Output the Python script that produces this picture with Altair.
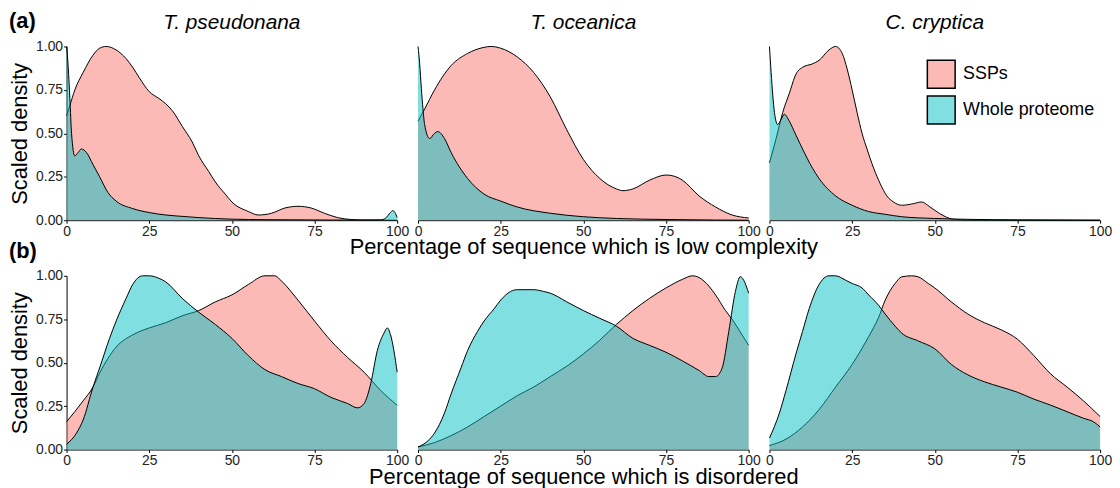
import altair as alt
import pandas as pd

FONT = "Liberation Sans"
species = ["T. pseudonana", "T. oceanica", "C. cryptica"]
groups = ["SSPs", "Whole proteome"]
row_labels = ["(a)", "(b)"]
x_titles = ["Percentage of sequence which is low complexity",
            "Percentage of sequence which is disordered"]
x_ticks = [0, 25, 50, 75, 100]
y_ticks = [0, 0.25, 0.5, 0.75, 1.0]

# ---- (a) low complexity ----
a1_ssp_x = [0, 1, 2.5, 5, 8, 10, 12, 15, 18, 20, 22, 25, 28, 30, 32, 35, 38, 40, 43, 45, 48, 50, 55, 58, 62, 66, 70, 74, 78, 82, 86, 90, 100]
a1_ssp_y = [0.60, 0.66, 0.75, 0.85, 0.95, 0.99, 1.0, 0.98, 0.93, 0.88, 0.82, 0.74, 0.70, 0.67, 0.63, 0.54, 0.45, 0.37, 0.28, 0.22, 0.15, 0.105, 0.05, 0.03, 0.04, 0.07, 0.08, 0.07, 0.04, 0.015, 0.004, 0.001, 0.0]
a1_wp_x = [0, 0.5, 1, 1.5, 2.5, 3.5, 4.5, 6, 8, 10, 12.5, 15, 20, 25, 30, 35, 40, 50, 60, 70, 80, 90, 95, 96.5, 98, 98.7, 99.3, 100]
a1_wp_y = [1.0, 0.88, 0.70, 0.50, 0.37, 0.39, 0.41, 0.39, 0.32, 0.25, 0.16, 0.11, 0.067, 0.044, 0.03, 0.022, 0.015, 0.006, 0.003, 0.002, 0.001, 0.001, 0.002, 0.012, 0.045, 0.055, 0.045, 0.015]

a2_ssp_x = [0, 2, 5, 10, 15, 20, 22, 25, 30, 35, 40, 45, 50, 55, 60, 62, 65, 70, 75, 78, 80, 85, 90, 95, 100]
a2_ssp_y = [0.57, 0.64, 0.75, 0.89, 0.96, 0.995, 1.0, 0.99, 0.94, 0.85, 0.71, 0.52, 0.35, 0.24, 0.18, 0.17, 0.18, 0.23, 0.26, 0.25, 0.23, 0.14, 0.076, 0.03, 0.013]
a2_wp_x = [0, 0.5, 1, 1.5, 2, 3.5, 5, 6, 8, 10, 15, 20, 25, 30, 40, 50, 60, 75, 90, 100]
a2_wp_y = [1.0, 0.90, 0.76, 0.64, 0.55, 0.47, 0.50, 0.51, 0.47, 0.39, 0.24, 0.15, 0.11, 0.076, 0.04, 0.02, 0.01, 0.004, 0.001, 0.0]

a3_ssp_x = [0, 2, 4, 6, 8, 10, 13, 15, 18, 20, 22, 23.5, 25, 26.5, 28, 29.5, 31.5, 33.5, 35.5, 37.5, 40, 43.5, 46, 48.5, 51.5, 55.5, 60, 75, 100]
a3_ssp_y = [0.33, 0.47, 0.62, 0.73, 0.84, 0.88, 0.90, 0.92, 0.98, 1.0, 0.96, 0.87, 0.75, 0.62, 0.50, 0.41, 0.30, 0.21, 0.14, 0.105, 0.086, 0.095, 0.105, 0.077, 0.038, 0.006, 0.001, 0.0, 0.0]
a3_wp_x = [0, 0.5, 1, 1.5, 2.5, 3.5, 4.5, 6, 8, 10, 13, 15, 20, 25, 30, 35, 40, 50, 60, 75, 90, 100]
a3_wp_y = [1.0, 0.85, 0.72, 0.62, 0.55, 0.58, 0.61, 0.57, 0.49, 0.41, 0.30, 0.24, 0.14, 0.086, 0.05, 0.034, 0.02, 0.01, 0.005, 0.002, 0.001, 0.0]

# ---- (b) disorder ----
b1_ssp_x = [0, 5, 8, 10, 15, 20, 25, 30, 35, 40, 45, 50, 55, 60, 63, 65, 70, 75, 80, 85, 90, 95, 100]
b1_ssp_y = [0.16, 0.28, 0.36, 0.44, 0.59, 0.66, 0.70, 0.73, 0.77, 0.80, 0.85, 0.89, 0.95, 1.0, 1.0, 0.97, 0.86, 0.74, 0.625, 0.53, 0.445, 0.34, 0.255]
b1_wp_x = [0, 3, 5, 8, 10, 13, 15, 18, 20, 23, 25, 28, 30, 35, 40, 45, 50, 55, 60, 65, 70, 75, 80, 85, 88, 90, 92, 94, 96, 97, 98, 99, 100]
b1_wp_y = [0.03, 0.095, 0.17, 0.36, 0.47, 0.64, 0.74, 0.87, 0.95, 1.0, 1.0, 0.985, 0.965, 0.87, 0.79, 0.72, 0.64, 0.54, 0.46, 0.42, 0.38, 0.35, 0.30, 0.265, 0.24, 0.265, 0.38, 0.57, 0.67, 0.70, 0.66, 0.57, 0.445]

b2_ssp_x = [0, 5, 10, 15, 20, 25, 30, 35, 40, 45, 50, 55, 60, 65, 70, 75, 80, 83, 85, 88, 90, 93, 95, 98, 100]
b2_ssp_y = [0.015, 0.04, 0.08, 0.13, 0.19, 0.25, 0.31, 0.36, 0.42, 0.48, 0.55, 0.63, 0.72, 0.80, 0.87, 0.93, 0.98, 1.0, 0.99, 0.94, 0.89, 0.80, 0.75, 0.66, 0.60]
b2_wp_x = [0, 3, 5, 8, 10, 13, 15, 18, 20, 23, 25, 28, 30, 33, 35, 38, 40, 45, 50, 55, 60, 65, 70, 75, 80, 85, 88, 90, 92, 94, 96, 97.5, 98.5, 100]
b2_wp_y = [0.015, 0.05, 0.095, 0.21, 0.32, 0.47, 0.57, 0.68, 0.74, 0.81, 0.86, 0.91, 0.92, 0.92, 0.92, 0.91, 0.90, 0.85, 0.80, 0.755, 0.71, 0.64, 0.60, 0.56, 0.51, 0.455, 0.42, 0.42, 0.47, 0.68, 0.91, 0.995, 0.975, 0.90]

b3_ssp_x = [0, 5, 10, 15, 20, 25, 30, 33, 35, 38, 40, 43, 45, 48, 50, 55, 60, 65, 70, 75, 80, 85, 90, 95, 100]
b3_ssp_y = [0.023, 0.06, 0.13, 0.23, 0.36, 0.49, 0.65, 0.76, 0.86, 0.956, 0.994, 1.0, 0.994, 0.956, 0.93, 0.85, 0.78, 0.73, 0.69, 0.635, 0.54, 0.436, 0.36, 0.28, 0.19]
b3_wp_x = [0, 3, 5, 8, 10, 12, 15, 18, 20, 23, 25, 28, 30, 33, 35, 38, 40, 45, 50, 55, 60, 65, 70, 75, 80, 85, 90, 95, 98, 100]
b3_wp_y = [0.066, 0.21, 0.34, 0.55, 0.68, 0.81, 0.95, 1.0, 1.0, 0.975, 0.956, 0.93, 0.89, 0.83, 0.78, 0.71, 0.67, 0.625, 0.58, 0.49, 0.43, 0.39, 0.36, 0.33, 0.29, 0.256, 0.218, 0.18, 0.16, 0.13]

curves = [
    [((a1_ssp_x, a1_ssp_y), (a1_wp_x, a1_wp_y)),
     ((a2_ssp_x, a2_ssp_y), (a2_wp_x, a2_wp_y)),
     ((a3_ssp_x, a3_ssp_y), (a3_wp_x, a3_wp_y))],
    [((b1_ssp_x, b1_ssp_y), (b1_wp_x, b1_wp_y)),
     ((b2_ssp_x, b2_ssp_y), (b2_wp_x, b2_wp_y)),
     ((b3_ssp_x, b3_ssp_y), (b3_wp_x, b3_wp_y))],
]

fill_scale = alt.Scale(domain=groups,
                       range=["rgba(248,118,109,0.5)", "rgba(0,191,196,0.5)"])
legend = alt.Legend(orient="none", legendX=866, legendY=13, title=None,
                    symbolType="square", symbolSize=784,
                    symbolStrokeColor="black", symbolStrokeWidth=1.5,
                    labelFontSize=18, labelFont=FONT, labelColor="black",
                    rowPadding=2, labelOffset=7, padding=0)

W, H = 333, 175


def panel(r, c):
    xaxis = alt.Axis(values=x_ticks, title=x_titles[r] if c == 1 else None,
                     titlePadding=-1, labelFlush=False)
    if c == 0:
        yaxis = alt.Axis(values=y_ticks, format=".2f", title="Scaled density",
                         titlePadding=4, labelFlush=False)
    else:
        yaxis = None
    X = alt.X("x:Q", scale=alt.Scale(domain=[0, 100], nice=False), axis=xaxis)
    Y = alt.Y("y:Q", scale=alt.Scale(domain=[0, 1], nice=False), axis=yaxis)
    F = alt.Fill("group:N", scale=fill_scale, legend=legend)
    layers = []
    for g, (xs, ys) in zip(groups, curves[r][c]):
        df = pd.DataFrame({"x": xs, "y": ys, "group": g})
        base = alt.Chart(df)
        layers.append(base.mark_area(interpolate="monotone").encode(x=X, y=Y, fill=F))
        layers.append(base.mark_line(interpolate="monotone", color="black",
                                     strokeWidth=1).encode(x=X, y=Y))
    if c == 0:
        lab = alt.Chart(pd.DataFrame({"t": [row_labels[r]]})).mark_text(
            align="left", baseline="alphabetic", fontSize=22, fontWeight="bold",
            font=FONT, color="black"
        ).encode(text="t:N", x=alt.value(-58), y=alt.value(-19 if r == 0 else -18))
        layers.append(lab)
    if r == 0:
        ttl = alt.Chart(pd.DataFrame({"t": [species[c]]})).mark_text(
            align="center", baseline="alphabetic", fontSize=21, fontStyle="italic",
            font=FONT, color="black"
        ).encode(text="t:N", x=alt.value(W / 2), y=alt.value(-18))
        layers.append(ttl)
    return alt.layer(*layers).properties(width=W, height=H)


panels = [panel(r, c) for r in range(2) for c in range(3)]

chart = alt.concat(*panels, columns=3, spacing={"row": 56, "column": 21},
                   bounds="flush").properties(padding=0).configure_axis(
    domainColor="black", domainWidth=1, tickColor="black", tickSize=3,
    labelColor="#222222", labelFont=FONT, labelFontSize=14, labelPadding=1,
    titleFont=FONT, titleFontSize=22, titleFontWeight="normal", titleColor="black",
    grid=False
).configure_view(strokeWidth=0)

chart.save("out.html", embed_options={"renderer": "svg", "actions": False})
